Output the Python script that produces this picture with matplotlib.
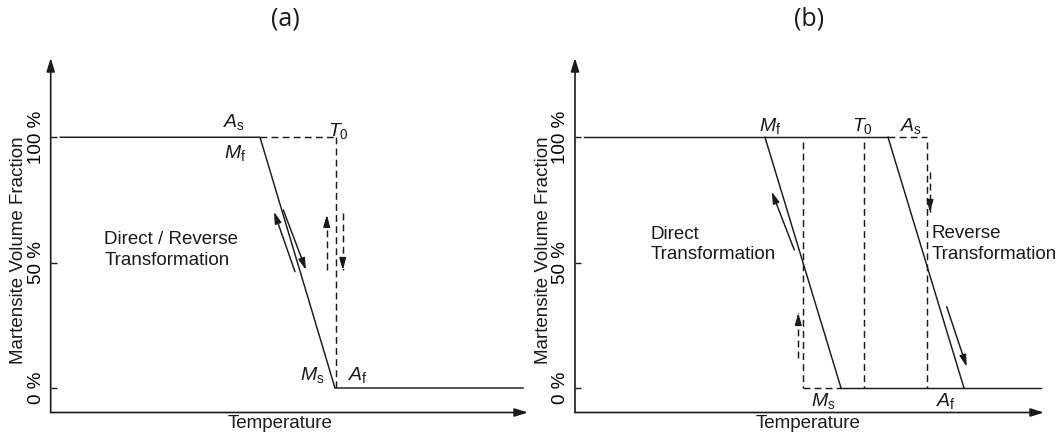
import matplotlib
matplotlib.use("Agg")
import matplotlib.pyplot as plt

plt.rcParams['font.family'] = ['Liberation Sans', 'DejaVu Sans']
plt.rcParams['mathtext.fontset'] = 'custom'
plt.rcParams['mathtext.it'] = 'Liberation Sans:italic'
plt.rcParams['mathtext.rm'] = 'Liberation Sans'

# y ticks
frac_ticks = [0, 50, 100]
frac_labels = ['0 %', '50 %', '100 %']

# (a) T0 between coincident As/Mf and Ms/Af
a_path_t = [2.0, 43.85, 59.56, 98.95]
a_path_f = [100, 100, 0, 0]
a_t0 = 59.56
a_dash_h_t = [43.85, 59.56]
# solid arrows along the line: (tail_t, tail_f, head_t, head_f)
a_arrows = [(51.18, 46.39, 46.78, 70.32), (48.73, 71.0, 53.49, 47.07)]
# dashed arrows: (t, tail_f, head_f)
a_dash_arrows = [(57.83, 47.07, 69.0), (61.18, 69.8, 47.07)]

# (b) separated direct / reverse
b_top_t = [2.0, 66.74]
b_direct_t = [40.51, 56.72]
b_reverse_t = [66.74, 82.94]
b_bottom_t = [56.72, 99.36]
b_dash_top_t = [66.74, 74.95]
b_dash_bot_t = [48.55, 56.72]
b_vlines = [48.55, 61.62, 74.95]
b_arrows = [(46.76, 55.05, 41.94, 78.3), (79.25, 32.43, 83.52, 8.5)]
b_dash_arrows = [(47.61, 11.97, 29.9), (75.69, 86.3, 70.2)]

DASH = (0, (4.7, 2.9))
COL = '#1a1a1a'
LW = 1.05
HEAD = '-|>,head_length=0.7,head_width=0.2'

W, H = 1059, 437
fig = plt.figure(figsize=(W / 100, H / 100), dpi=100)
ax_a = fig.add_axes([50.7 / W, (H - 412.5) / H, (528 - 50.7) / W, (412.5 - 58) / H])
ax_b = fig.add_axes([575 / W, (H - 412.5) / H, (1044 - 575) / W, (412.5 - 58) / H])


def frame(ax):
    ax.set_xlim(0, 100)
    ax.set_ylim(-9.77, 131.6)
    for s in ax.spines.values():
        s.set_visible(False)
    ax.set_xticks([])
    ax.set_yticks(frac_ticks)
    ax.set_yticklabels(frac_labels, rotation=90, va='center')
    ax.tick_params(axis='y', direction='in', length=4, width=1, pad=4,
                   labelsize=13.5, color=COL)
    for xy in [(1, 0), (0, 1)]:
        ax.annotate('', xy=xy, xytext=(0, 0), xycoords='axes fraction',
                    arrowprops=dict(arrowstyle='-|>,head_length=0.8,head_width=0.25',
                                    lw=1.2, color=COL, shrinkA=0, shrinkB=0,
                                    mutation_scale=10), annotation_clip=False)


def arrow(ax, t0, f0, t1, f1):
    ax.annotate('', xy=(t1, f1), xytext=(t0, f0),
                arrowprops=dict(arrowstyle=HEAD, lw=LW, color=COL, shrinkA=0,
                                shrinkB=0, mutation_scale=10))


def dash_arrow(ax, t, f0, f1):
    ax.plot([t, t], [f0, f1], color=COL, lw=LW, ls=DASH)
    step = 2.0 if f1 > f0 else -2.0
    arrow(ax, t, f1 - step, t, f1)


def label(ax, txt, t, f, dx, dy):
    ax.annotate(txt, xy=(t, f), xytext=(dx, dy), textcoords='offset points',
                ha='left', va='baseline', fontsize=14, color=COL)


# ---- (a)
frame(ax_a)
ax_a.plot(a_path_t, a_path_f, color=COL, lw=LW)
ax_a.plot(a_dash_h_t, [100, 100], color=COL, lw=LW, ls=DASH)
ax_a.plot([a_t0 + 0.3, a_t0 + 0.3], [100, 0], color=COL, lw=LW, ls=DASH)
for a in a_arrows:
    arrow(ax_a, *a)
for d in a_dash_arrows:
    dash_arrow(ax_a, *d)
label(ax_a, r'$A_\mathrm{s}$', a_path_t[1], 100, -26.5, 7.6)
label(ax_a, r'$M_\mathrm{f}$', a_path_t[1], 100, -26, -15.1)
label(ax_a, r'$T_0$', a_t0, 100, -4.8, 0.9)
label(ax_a, r'$M_\mathrm{s}$', a_path_t[2], 0, -25, 5.8)
label(ax_a, r'$A_\mathrm{f}$', a_path_t[2], 0, 9.4, 5.8)
ax_a.text(11.23, 55.0, 'Direct / Reverse\nTransformation', fontsize=13.5,
          ha='left', va='center', linespacing=1.25, color=COL)

# ---- (b)
frame(ax_b)
ax_b.plot(b_top_t, [100, 100], color=COL, lw=LW)
ax_b.plot(b_direct_t, [100, 0], color=COL, lw=LW)
ax_b.plot(b_reverse_t, [100, 0], color=COL, lw=LW)
ax_b.plot(b_bottom_t, [0, 0], color=COL, lw=LW)
ax_b.plot(b_dash_top_t, [100, 100], color=COL, lw=LW, ls=DASH)
ax_b.plot(b_dash_bot_t, [0, 0], color=COL, lw=LW, ls=DASH)
for v in b_vlines:
    ax_b.plot([v, v], [98, 0], color=COL, lw=LW, ls=DASH)
for a in b_arrows:
    arrow(ax_b, *a)
for d in b_dash_arrows:
    dash_arrow(ax_b, *d)
label(ax_b, r'$M_\mathrm{f}$', b_direct_t[0], 100, -4, 4.8)
label(ax_b, r'$T_0$', b_vlines[1], 100, -8.3, 4.8)
label(ax_b, r'$A_\mathrm{s}$', b_reverse_t[0], 100, 8.6, 4.8)
label(ax_b, r'$M_\mathrm{s}$', b_direct_t[1], 0, -21.5, -12.8)
label(ax_b, r'$A_\mathrm{f}$', b_reverse_t[1], 0, -20, -12.8)
ax_b.text(16.14, 57.2, 'Direct\nTransformation', fontsize=13.5,
          ha='left', va='center', linespacing=1.25, color=COL)
ax_b.text(76.1, 57.4, 'Reverse\nTransformation', fontsize=13.5,
          ha='left', va='center', linespacing=1.25, color=COL)

# axis titles / panel titles
for cx in [19, 544]:
    fig.text(cx / W, 1 - 250 / H, 'Martensite Volume Fraction', rotation=90,
             ha='center', va='center', fontsize=13.5, color=COL)
for cx in [280, 808]:
    fig.text(cx / W, 1 - 424 / H, 'Temperature', ha='center', va='center',
             fontsize=13.5, color=COL)
fig.text(285 / W, 1 - 19 / H, '(a)', ha='center', va='center', fontsize=18,
         family=['Open Sans', 'DejaVu Sans'], color=COL)
fig.text(809 / W, 1 - 19 / H, '(b)', ha='center', va='center', fontsize=18,
         family=['Open Sans', 'DejaVu Sans'], color=COL)

fig.savefig('out.png', dpi=100)
